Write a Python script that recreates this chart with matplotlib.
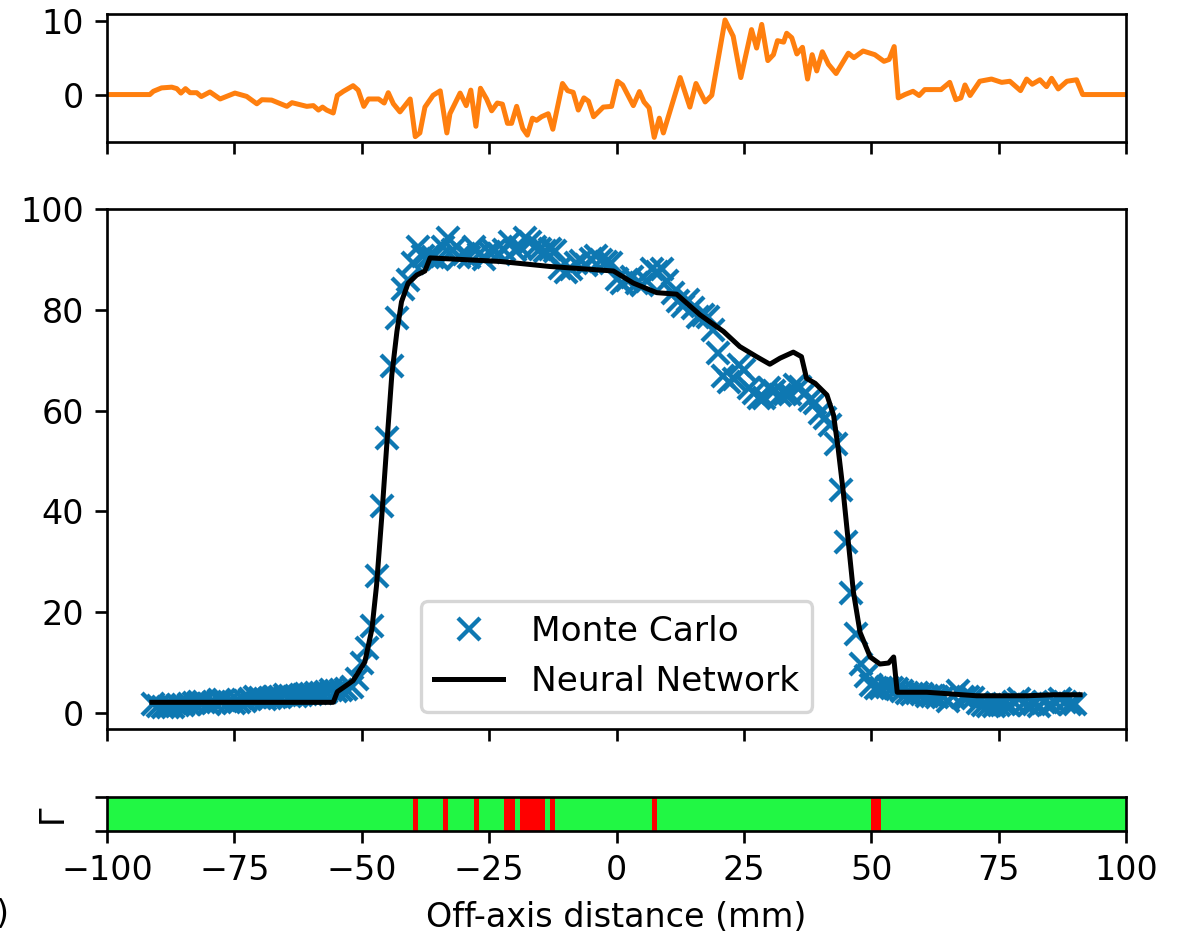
import numpy as np
import matplotlib
matplotlib.use('Agg')
import matplotlib.pyplot as plt
from matplotlib.colors import ListedColormap

# Monte Carlo profile
x_mc = [-91, -90, -89, -88, -87, -86, -85, -84, -83, -82, -81, -80, -79, -78, -77, -76,
        -75, -74, -73, -72, -71, -70, -69, -68, -67, -66, -65, -64, -63, -62, -61, -60,
        -59, -58, -57, -56, -55, -54, -53, -52, -51, -50, -49, -48, -47, -46, -45, -44,
        -43, -42, -41, -40, -39, -38, -37, -36, -35, -34, -33, -32, -31, -30, -29, -28,
        -27, -26, -25, -24, -23, -22, -21, -20, -19, -18, -17, -16, -15, -14, -13, -12,
        -11, -10, -9, -8, -7, -6, -5, -4, -3, -2, -1, 0, 1, 2, 3, 4,
        5, 6, 7, 8, 9, 10, 11, 12, 13, 14, 15, 16, 17, 18, 19, 20,
        21, 22, 23, 24, 25, 26, 27, 28, 29, 30, 31, 32, 33, 34, 35, 36,
        37, 38, 39, 40, 41, 42, 43, 44, 45, 46, 47, 48, 49, 50, 51, 52,
        53, 54, 55, 56, 57, 58, 59, 60, 61, 62, 63, 64, 65, 66, 67, 68,
        69, 70, 71, 72, 73, 74, 75, 76, 77, 78, 79, 80, 81, 82, 83, 84,
        85, 86, 87, 88, 89, 90]
y_mc = [1.7, 1.4, 1.2, 1.1, 1.2, 1.5, 1.6, 1.7, 1.9, 2.1, 2.2, 1.8, 2.1, 2.6, 2.5, 2.2,
        1.9, 2.1, 2.3, 2.7, 3.2, 3.0, 2.8, 2.9, 3.1, 3.2, 3.6, 3.4, 3.3, 3.5, 3.7, 3.7,
        3.9, 4.0, 4.2, 4.5, 4.4, 4.5, 4.8, 5.1, 6.7, 9.9, 12.9, 17.3, 27.2, 41.1, 54.6, 68.9,
        78.3, 84.1, 86.0, 89.3, 92.4, 90.6, 90.4, 90.4, 90.0, 92.4, 94.2, 91.8, 90.4, 91.0, 90.5, 92.4,
        91.0, 90.0, 91.4, 91.6, 91.0, 91.9, 93.4, 91.9, 92.4, 94.2, 93.5, 92.4, 92.1, 91.6, 92.1, 91.6,
        88.3, 87.5, 88.0, 89.2, 89.6, 88.9, 90.1, 90.7, 89.9, 89.5, 89.3, 86.1, 85.3, 85.9, 86.6, 85.4,
        85.0, 85.7, 88.0, 87.6, 88.0, 85.7, 83.4, 81.8, 80.8, 81.9, 80.3, 78.5, 79.0, 78.5, 76.0, 71.4,
        66.8, 65.7, 66.3, 69.1, 68.0, 64.4, 63.5, 62.5, 62.4, 64.5, 63.8, 63.1, 63.3, 63.3, 65.0, 64.7,
        63.4, 62.1, 61.5, 59.5, 58.5, 57.1, 53.3, 44.3, 33.9, 23.7, 15.7, 9.8, 7.3, 5.5, 5.0, 5.0,
        5.2, 5.0, 4.7, 4.3, 4.0, 3.7, 4.0, 3.8, 3.4, 3.3, 3.2, 3.1, 2.4, 3.3, 4.3, 3.2,
        3.2, 3.0, 1.9, 1.5, 1.4, 1.4, 1.6, 1.7, 1.6, 2.1, 2.7, 1.9, 1.6, 1.8, 1.4, 2.2,
        1.8, 2.1, 2.7, 2.1, 1.8, 1.7]

# Neural network prediction
x_nn = [-91.2, -55.6, -54.8, -51.7, -49.4, -48.0, -47.1, -46.1, -45.1, -44.1, -43.1, -42.2,
        -40.9, -39.2, -37.6, -36.6, -22.9, -13.1, -0.6, 3.3, 7.9, 11.8, 16.4, 21.0,
        24.2, 27.5, 30.1, 32.1, 34.7, 36.3, 37.3, 39.0, 41.3, 42.6, 43.5, 44.5,
        45.5, 46.5, 47.8, 49.8, 51.7, 53.4, 54.4, 55.1, 60.9, 70.7, 80.5, 85.7, 91.0]
y_nn = [2.1, 2.1, 4.2, 6.4, 10.1, 16.7, 25.3, 38.6, 53.1, 67.1, 75.7, 81.6,
        85.3, 86.9, 87.7, 90.3, 89.6, 88.6, 87.7, 85.3, 83.4, 83.1, 79.0, 75.7,
        72.7, 70.7, 69.2, 70.4, 71.6, 70.7, 66.4, 65.4, 63.1, 59.1, 52.5, 43.9,
        33.9, 24.0, 16.0, 11.1, 9.7, 9.9, 11.1, 4.1, 4.1, 3.4, 3.4, 3.6, 3.6]

# difference panel
x_diff = [-100, -91.6, -90.9, -89.3, -87.3, -86.3, -85.5, -84.6, -83.7, -82.4, -81.5, -79.8,
          -77.8, -74.9, -72.6, -70.6, -69.6, -67.7, -64.7, -63.7, -60.8, -59.5, -58.5, -57.7,
          -56.9, -55.6, -54.8, -53.6, -51.7, -50.7, -49.6, -48.7, -46.7, -45.6, -44.8, -43.8,
          -42.5, -40.5, -39.5, -38.6, -37.6, -36.0, -34.6, -33.3, -32.7, -30.7, -29.5, -28.6,
          -27.6, -26.7, -25.5, -24.5, -23.4, -22.4, -21.4, -20.6, -19.6, -18.4, -17.5, -16.5,
          -15.7, -14.7, -13.4, -12.5, -10.6, -9.6, -8.5, -7.5, -6.4, -5.5, -4.5, -2.6,
          -0.96, 0.2, 1.2, 3.3, 4.5, 5.4, 6.4, 7.4, 8.4, 9.2, 12.5, 14.4,
          15.6, 17.4, 18.7, 21.3, 22.9, 24.4, 26.5, 27.5, 28.5, 29.7, 30.8, 31.6,
          32.8, 33.4, 34.4, 35.4, 36.5, 37.5, 38.4, 39.3, 40.4, 41.6, 43.1, 45.5,
          46.6, 48.4, 50.7, 52.5, 53.5, 54.5, 55.3, 56.6, 58.2, 59.4, 60.5, 63.7,
          65.4, 66.6, 67.6, 68.4, 69.4, 71.3, 73.6, 75.6, 77.2, 79.3, 80.5, 81.6,
          83.1, 84.4, 85.4, 86.7, 88.4, 90.3, 91.5, 100]
y_diff = [0, 0, 0.44, 0.9, 1.0, 0.8, 0.2, 0.8, 0.25, 0.25, -0.27, 0.35,
          -0.6, 0.2, -0.25, -1.25, -0.7, -0.75, -1.6, -1.1, -1.6, -1.5, -2.1, -1.7,
          -2.1, -2.5, -0.13, 0.44, 1.2, 0.6, -1.6, -0.6, -0.6, -1.15, 0.25, -1.25,
          -2.35, -0.6, -5.7, -5.2, -1.7, -0.1, 0.5, -5.2, -2.6, 0.2, -1.5, 0.6,
          -4.3, 0.85, -0.6, -2.2, -1.15, -1.3, -3.9, -3.9, -1.6, -4.6, -5.5, -3.2,
          -3.5, -3.0, -2.6, -4.7, 1.5, 0.53, 0.3, -2.1, -0.45, -0.9, -3.0, -1.7,
          -1.6, 1.8, 1.3, -1.5, 0.4, -1.0, -1.8, -5.8, -3.2, -5.2, 2.3, -1.7,
          1.5, -1.0, -0.1, 10.1, 7.9, 2.3, 8.8, 6.3, 9.5, 4.6, 5.4, 7.3,
          7.1, 8.3, 7.7, 5.5, 6.4, 2.1, 5.4, 3.2, 5.8, 4.1, 2.85, 5.6,
          5.0, 5.9, 5.4, 4.5, 4.75, 6.5, -0.45, 0.0, 0.44, -0.13, 0.67, 0.67,
          1.65, -0.7, -0.45, 1.3, -0.13, 1.8, 2.1, 1.65, 1.8, 0.53, 2.1, 1.4,
          2.0, 1.07, 2.2, 0.76, 1.8, 2.0, 0, 0]

# failing 1 mm cells in the pass/fail strip
fail_cells = [-40, -34, -28, -22, -21, -19, -18, -17, -16, -15, -13, 7, 50, 51]

xticks = [-100, -75, -50, -25, 0, 25, 50, 75, 100]

fig = plt.figure(figsize=(1184 / 240, 939 / 240), dpi=240)

# top: difference
ax1 = fig.add_axes([0.0904, 0.849, 0.8606, 0.136])
ax1.plot(x_diff, y_diff, color='C1')
ax1.set_xlim(-100, 100)
ax1.set_ylim(-6.4, 10.9)
ax1.set_yticks([0, 10])
ax1.set_xticks(xticks)
ax1.set_xticklabels([])

# middle: profiles
ax2 = fig.add_axes([0.0904, 0.2236, 0.8606, 0.5538])
ax2.plot(x_mc, y_mc, 'x', color='#0e78b2', markersize=6.5, markeredgewidth=1.3,
         label='Monte Carlo')
ax2.plot(x_nn, y_nn, color='black', label='Neural Network')
ax2.set_xlim(-100, 100)
ax2.set_ylim(-3.2, 100)
ax2.set_xticks(xticks)
ax2.set_xticklabels([])
ax2.legend(loc='lower center', prop={'size': 10.3})

# bottom: pass/fail strip
edges = np.arange(-100, 101)
status = np.isin(edges[:-1], fail_cells).astype(int)
ax3 = fig.add_axes([0.0904, 0.115, 0.8606, 0.0362])
ax3.pcolormesh(edges, [0, 1], status[None, :],
               cmap=ListedColormap(['#21f744', '#ff0000']), vmin=0, vmax=1)
ax3.set_xlim(-100, 100)
ax3.set_ylim(0, 1)
ax3.set_yticks([0, 1])
ax3.set_yticklabels(['', ''])
ax3.set_xticks(xticks)
ax3.set_ylabel('Γ')
ax3.yaxis.set_label_coords(-0.038, 0.5)
ax3.set_xlabel('Off-axis distance (mm)')

# clipped piece of the neighbouring panel's label
fig.text(0.007, 0.026, ')', ha='right', va='center', fontsize=10)

fig.savefig('out.png', dpi=240)
